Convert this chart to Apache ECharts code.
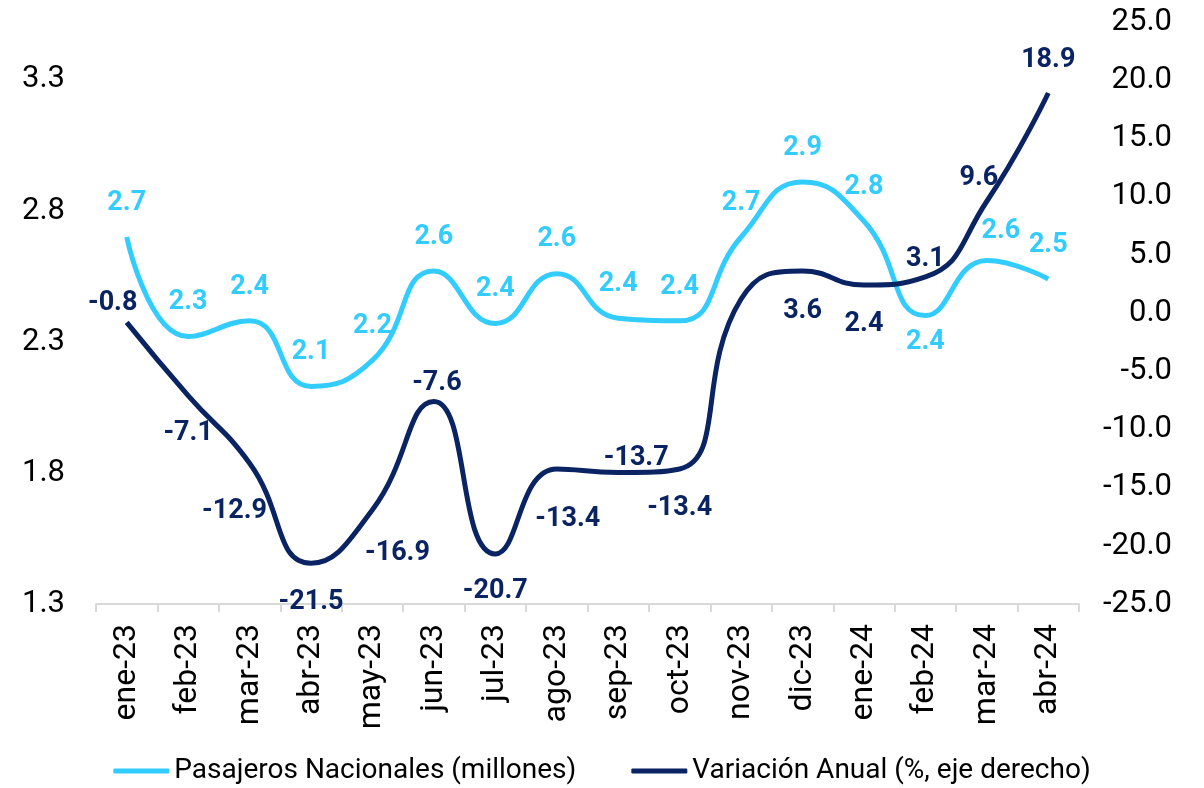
<!doctype html>
<html lang="es">
<head>
    <meta charset="UTF-8">
    <title>Pasajeros Nacionales</title>
    <style>
        *{
            margin:0;
            padding:0;
        }
        html,body {
            height:100%;
            background:#fff;
        }
        #main{
            width:1204px;
            height:788px;
        }
    </style>
</head>
<body>

<div id="main"></div>
<script src="https://cdn.jsdelivr.net/npm/echarts@6/dist/echarts.min.js"></script>
<script>

    // data
    var months = ['ene-23', 'feb-23', 'mar-23', 'abr-23', 'may-23', 'jun-23', 'jul-23', 'ago-23',
        'sep-23', 'oct-23', 'nov-23', 'dic-23', 'ene-24', 'feb-24', 'mar-24', 'abr-24'];

    var pasajeros = [2.70, 2.32, 2.38, 2.13, 2.23, 2.57, 2.37, 2.56,
        2.39, 2.38, 2.70, 2.91, 2.76, 2.40, 2.61, 2.54];

    var variacion = [-0.8, -7.1, -12.9, -21.5, -16.9, -7.6, -20.7, -13.4,
        -13.7, -13.4, 1.2, 3.6, 2.4, 3.1, 9.6, 18.9];

    var leftTicks = [1.3, 3.52, 0.5];   // min, max, step
    var rightTicks = [-25, 25, 5];

    // where each value label sits relative to its point (label centre offset)
    var lightOffsets = {13: [0, 27], 14: [14, -29]};
    var darkOffsets = [[-14, -19], [0, 38], [-15, 48], [0, 39], [25, 44], [3, -18], [0, 37], [11, 50],
        [18, -14], [0, 39], null, [0, 40], [0, 39], [0, -18], [-8, -23], [0, -33]];

    var LIGHT = '#33CCFF';
    var DARK = '#0A2362';
    var FONT = 'Roboto';

    var myChart = echarts.init(document.getElementById('main'));

    var darkData = variacion.map(function (v, i) {
        return darkOffsets[i] ? v : {value: v, label: {show: false}};
    });

    var valueLabel = function (color) {
        return {
            show: true,
            position: 'top',
            distance: 0,
            verticalAlign: 'middle',
            align: 'center',
            color: color,
            fontFamily: FONT,
            fontWeight: 'bold',
            fontSize: 27,
            formatter: function (p) {
                var v = typeof p.value === 'number' ? p.value : p.value.value;
                return Number(v).toFixed(1);
            }
        };
    };

    myChart.setOption({
        animation: false,
        textStyle: {fontFamily: FONT},
        grid: {
            left: 96,
            right: 125,
            top: 22,
            bottom: 184
        },
        legend: {
            top: 752,
            left: 'center',
            icon: 'roundRect',
            itemWidth: 56,
            itemHeight: 5,
            itemGap: 55,
            textStyle: {
                fontFamily: FONT,
                fontSize: 28,
                color: '#000'
            },
            data: [
                {name: 'Pasajeros Nacionales (millones)', itemStyle: {color: LIGHT}},
                {name: 'Variación Anual (%, eje derecho)', itemStyle: {color: DARK}}
            ]
        },
        xAxis: {
            type: 'category',
            data: months,
            boundaryGap: true,
            axisLine: {onZero: false, lineStyle: {color: '#D9D9D9', width: 2}},
            axisTick: {show: true, length: 8, lineStyle: {color: '#D9D9D9', width: 2}},
            axisLabel: {
                rotate: 90,
                margin: 20,
                color: '#000',
                fontFamily: FONT,
                fontSize: 32,
                interval: 0
            }
        },
        yAxis: [{
            type: 'value',
            min: leftTicks[0],
            max: leftTicks[1],
            interval: leftTicks[2],
            splitLine: {show: false},
            axisLine: {show: false},
            axisTick: {show: false},
            axisLabel: {
                showMaxLabel: false,
                margin: 31,
                color: '#000',
                fontFamily: FONT,
                fontSize: 31,
                formatter: function (v) { return v.toFixed(1); }
            }
        }, {
            type: 'value',
            min: rightTicks[0],
            max: rightTicks[1],
            interval: rightTicks[2],
            splitLine: {show: false},
            axisLine: {show: false},
            axisTick: {show: false},
            axisLabel: {
                align: 'right',
                margin: 93,
                color: '#000',
                fontFamily: FONT,
                fontSize: 31,
                formatter: function (v) { return v.toFixed(1); }
            }
        }],
        series: [{
            name: 'Pasajeros Nacionales (millones)',
            type: 'line',
            yAxisIndex: 0,
            smooth: 0.5,
            symbol: 'circle',
            symbolSize: 0,
            showAllSymbol: true,
            color: LIGHT,
            lineStyle: {width: 5, color: LIGHT},
            label: valueLabel(LIGHT),
            labelLayout: function (p) {
                var off = lightOffsets[p.dataIndex] || [0, -34];
                return {dx: off[0], dy: off[1], hideOverlap: false};
            },
            data: pasajeros
        }, {
            name: 'Variación Anual (%, eje derecho)',
            type: 'line',
            yAxisIndex: 1,
            smooth: 0.5,
            symbol: 'circle',
            symbolSize: 0,
            showAllSymbol: true,
            color: DARK,
            lineStyle: {width: 5, color: DARK},
            label: valueLabel(DARK),
            labelLayout: function (p) {
                var off = darkOffsets[p.dataIndex] || [0, 0];
                return {dx: off[0], dy: off[1], hideOverlap: false};
            },
            data: darkData
        }]
    });

</script>
</body>
</html>
